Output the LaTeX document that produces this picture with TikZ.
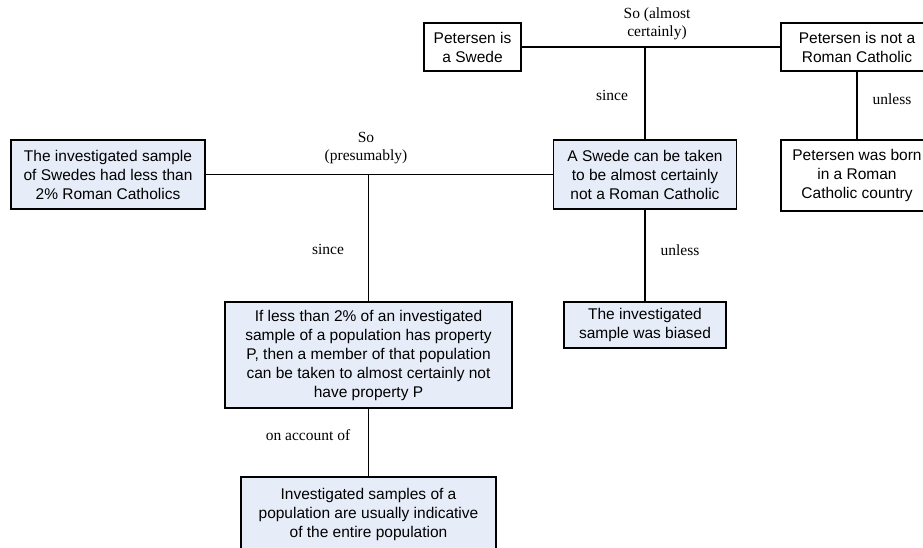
\documentclass[tikz,border=0pt]{standalone}
\usepackage{fontspec}
\setmainfont{Liberation Serif}
\setsansfont{Liberation Sans}
\definecolor{boxblue}{RGB}{231,237,248}
\begin{document}
\begin{tikzpicture}[x=1pt,y=-1pt,
  box/.style={draw=black,line width=1.8pt,inner sep=0pt,align=center,
    font=\sffamily\fontsize{15.5}{19}\selectfont,minimum width=#1},
  wbox/.style={box=#1,fill=white},
  bbox/.style={box=#1,fill=boxblue},
  lab/.style={inner sep=0pt,align=center,font=\fontsize{15.5}{18}\selectfont},
  conn/.style={line width=1.8pt}]
\useasboundingbox (0,0) rectangle (923,547);
\clip (0,0) rectangle (923,547);
\fill[white] (0,0) rectangle (923,547);
% nodes
\node[wbox=97pt,minimum height=48pt] (b1) at (472.5,47) {Petersen is\\a Swede};
\node[wbox=152pt,minimum height=48pt] (b2) at (857,47) {Petersen is not a\\Roman Catholic};
\node[wbox=152pt,minimum height=71pt] (b3) at (857,175.5) {Petersen was born\\in a Roman\\Catholic country};
\node[bbox=194pt,minimum height=69pt] (b4) at (108,174.5) {The investigated sample\\of Swedes had less than\\2\% Roman Catholics};
\node[bbox=183pt,minimum height=69pt] (b5) at (645,174.5) {A Swede can be taken\\to be almost certainly\\not a Roman Catholic};
\node[bbox=287pt,minimum height=106pt] (b6) at (368.5,355) {If less than 2\% of an investigated\\sample of a population has property\\P, then a member of that population\\can be taken to almost certainly not\\have property P};
\node[bbox=162pt,minimum height=46pt] (b7) at (645,325) {The investigated\\sample was biased};
\node[bbox=255pt,minimum height=75pt] (b8) at (368.5,514.5) {Investigated samples of a\\population are usually indicative\\of the entire population};
% junctions
\coordinate (j1) at (645,47);
\coordinate (j2) at (368.5,174.5);
% connectors
\draw[conn] (b1) -- (b2);
\draw[conn] (j1) -- (b5);
\draw[conn] (b2) -- (b3);
\draw[conn] (b4) -- (b5);
\draw[conn] (j2) -- (b6);
\draw[conn] (b5) -- (b7);
\draw[conn] (b6) -- (b8);
% labels
\node[lab] (l1) at (657,24) {So (almost\\certainly)};
\node[lab] (l2) at (612,95) {since};
\node[lab] (l3) at (892,99) {unless};
\node[lab] (l4) at (366,148) {So\\(presumably)};
\node[lab] (l5) at (328,249) {since};
\node[lab] (l6) at (680,250) {unless};
\node[lab] (l7) at (308,435) {on account of};
\end{tikzpicture}
\end{document}
